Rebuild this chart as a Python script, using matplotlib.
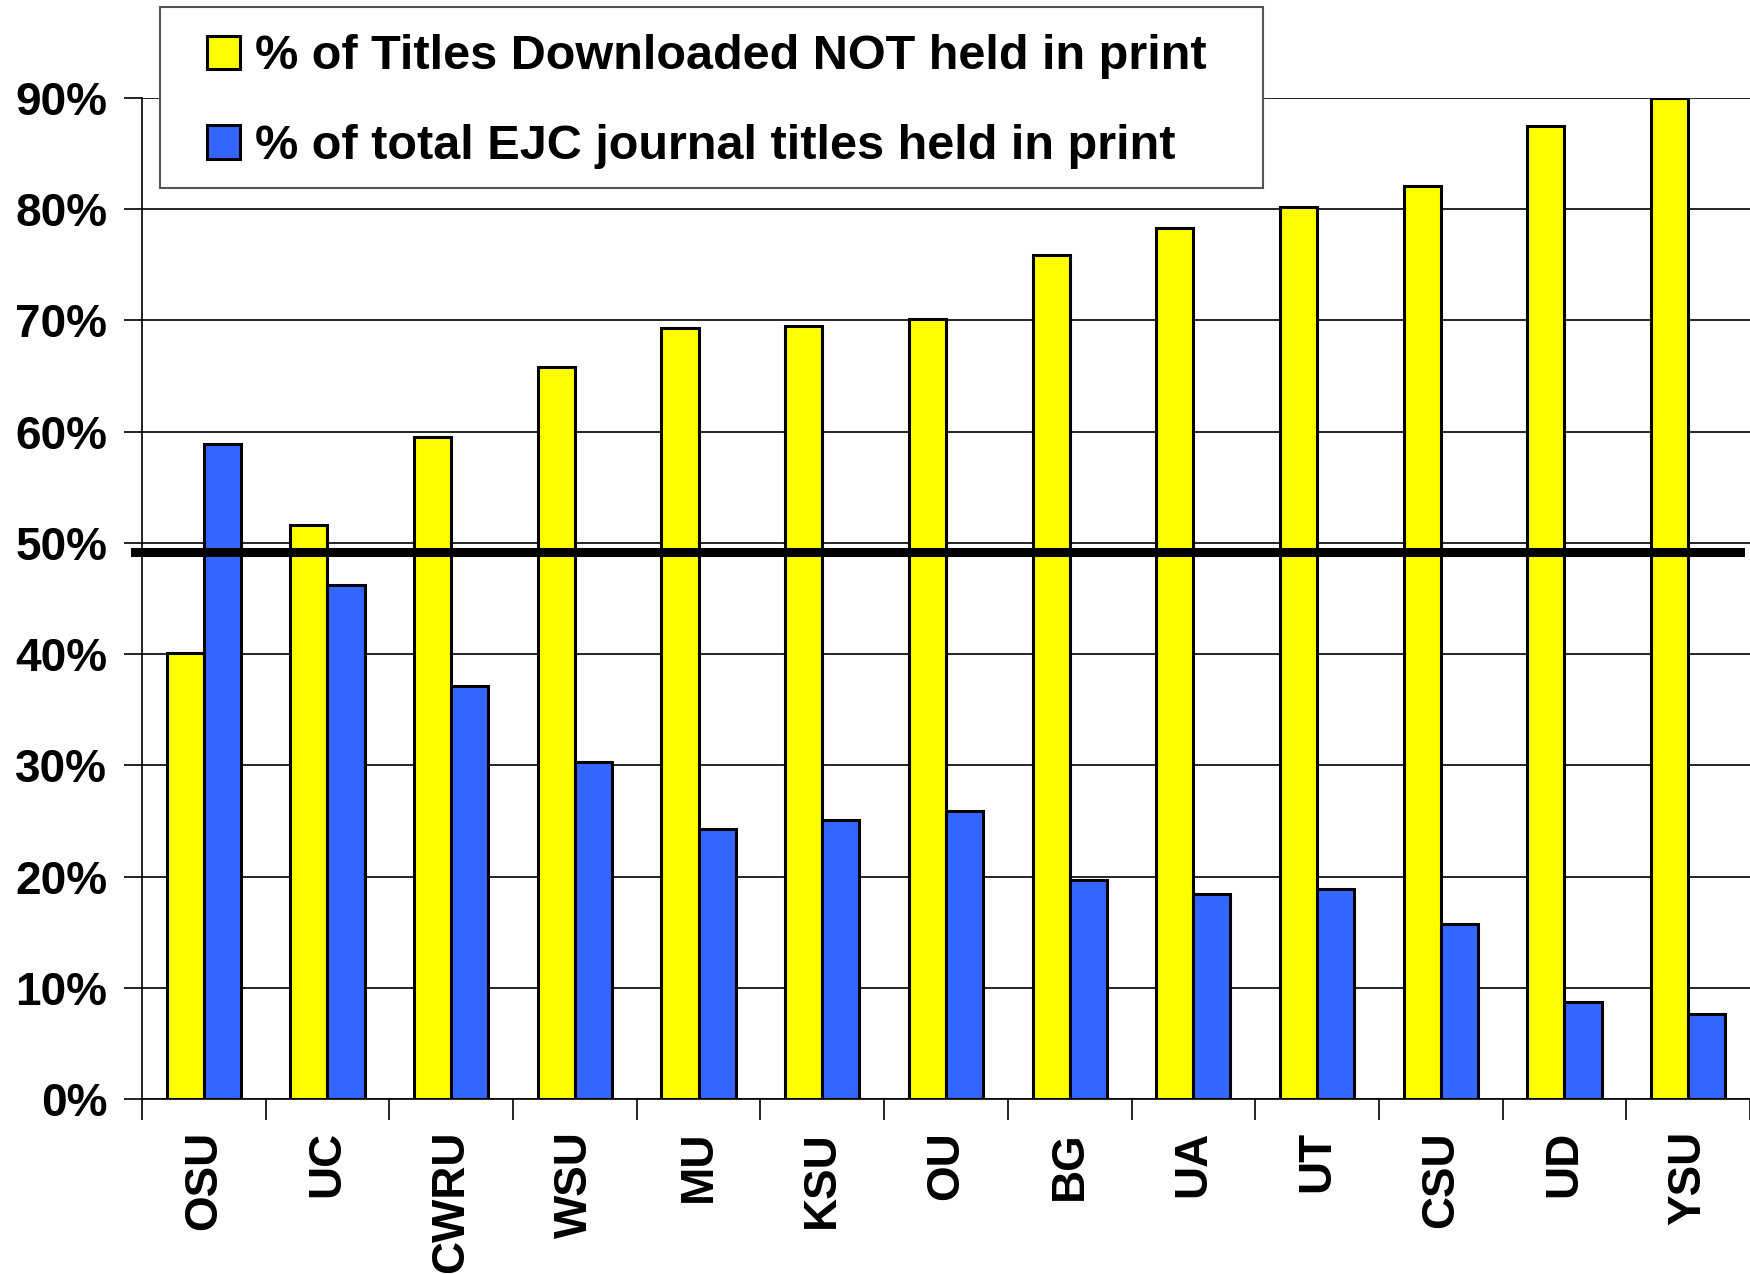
import matplotlib
matplotlib.use('Agg')
import matplotlib.pyplot as plt
from matplotlib.patches import Rectangle
import numpy as np

# 数据
schools = ['OSU', 'UC', 'CWRU', 'WSU', 'MU', 'KSU', 'OU', 'BG', 'UA', 'UT', 'CSU', 'UD', 'YSU']
not_held = [40.1, 51.6, 59.5, 65.8, 69.3, 69.5, 70.1, 75.9, 78.3, 80.2, 82.1, 87.5, 90.0]
held_in_print = [58.9, 46.2, 37.1, 30.3, 24.3, 25.1, 25.9, 19.7, 18.4, 18.9, 15.7, 8.7, 7.6]
threshold = 49.2
yticks = [0, 10, 20, 30, 40, 50, 60, 70, 80, 90]

label1 = '% of Titles Downloaded NOT held in print'
label2 = '% of total EJC journal titles held in print'

plt.rcParams['font.family'] = ['Liberation Sans', 'DejaVu Sans']
plt.rcParams['font.weight'] = 'bold'

fig = plt.figure(figsize=(17.5, 12.74), dpi=100)
ax = fig.add_axes([0.0811, 0.1374, 0.9189, 0.7857])

x = np.arange(len(schools))
w = 0.3
ax.bar(x - w / 2, not_held, w, color='#ffff00', edgecolor='black', linewidth=2.2,
       label=label1, zorder=3)
ax.bar(x + w / 2, held_in_print, w, color='#3366ff', edgecolor='black', linewidth=2.2,
       label=label2, zorder=3)

# 粗黑线
ax.axhline(threshold, xmin=-0.004, xmax=0.9935, color='black', linewidth=6.5, zorder=4,
           clip_on=False)

ax.set_xlim(-0.5, len(schools) - 0.5)
ax.set_ylim(0, 90)
ax.set_yticks(yticks)
ax.set_yticklabels([f'{v}%' for v in yticks], fontsize=33, fontweight='bold')
ax.yaxis.grid(True, color='black', linewidth=1.2, zorder=0)
ax.set_axisbelow(True)

# 分类标签与刻度
ax.set_xticks(x)
ax.set_xticklabels(schools, rotation=90, fontsize=33, fontweight='bold')
ax.tick_params(axis='x', length=0, pad=23)
ax.set_xticks(np.arange(len(schools) + 1) - 0.5, minor=True)
ax.tick_params(axis='x', which='minor', length=15, width=1.2, direction='out')
ax.tick_params(axis='y', length=13, width=1.2, pad=12)

for s in ['top', 'right']:
    ax.spines[s].set_visible(False)
ax.spines['left'].set_linewidth(1.2)
ax.spines['bottom'].set_linewidth(1.2)

# 图例框
frame = Rectangle((0.0914, 0.8528), 0.6303, 0.1417, transform=fig.transFigure,
                  facecolor='white', edgecolor='#555555', linewidth=1.5, zorder=5)
fig.patches.append(frame)

leg = fig.legend(*ax.get_legend_handles_labels(), loc='upper left',
                 bbox_to_anchor=(0.1185, 0.973), fontsize=35, frameon=False,
                 handlelength=0.68, handleheight=0.68, handletextpad=0.3,
                 labelspacing=0.92, borderpad=0, borderaxespad=0)
leg.set_zorder(6)
for t in leg.get_texts():
    t.set_fontweight('bold')

fig.savefig('out.png', dpi=100)
